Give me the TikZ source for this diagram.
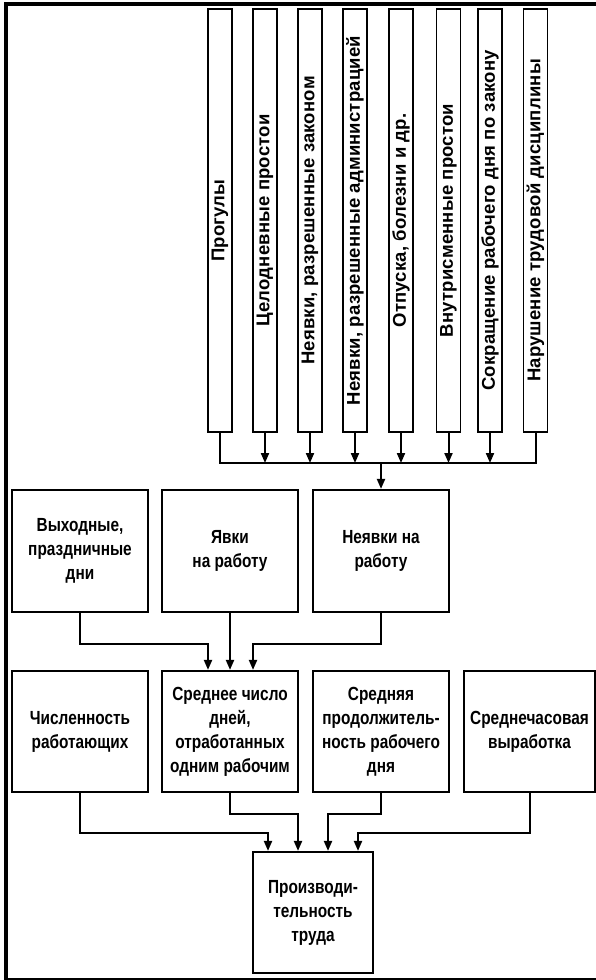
\documentclass[tikz,border=0pt]{standalone}
\usepackage{fontspec}
\newfontfamily\vfont[LetterSpace=1]{Liberation Sans Bold}
\newfontfamily\bfont[FakeStretch=0.81]{Liberation Sans Bold}
\usetikzlibrary{arrows.meta}
\begin{document}
\begin{tikzpicture}[x=1pt,y=-1pt,
  vbox/.style={draw, line width=1.8pt, rotate=90, minimum width=423pt, minimum height=24pt, inner sep=0pt, font=\vfont\fontsize{18.5}{20}\selectfont},
  mbox/.style={draw, line width=2.2pt, minimum width=136pt, minimum height=122pt, align=center, inner sep=0pt, font=\bfont\fontsize{19}{24}\selectfont},
  conn/.style={line width=2pt},
  arr/.style={conn, -{Triangle[width=8pt,length=10pt]}}]
\useasboundingbox (0,0) rectangle (596,980);
% frame
\draw[line width=4pt] (6,979) -- (6,3.5) -- (596,3.5);
\draw[line width=1.5pt] (4,979) -- (596,979);
% vertical boxes
\node[vbox] (p1) at (220,220.5) {Прогулы};
\node[vbox] (p2) at (265,220.5) {Целодневные простои};
\node[vbox] (p3) at (310,220.5) {Неявки, разрешенные законом};
\node[vbox] (p4) at (355,220.5) {Неявки, разрешенные администрацией};
\node[vbox] (p5) at (401,220.5) {Отпуска, болезни и др.};
\node[vbox] (p6) at (448.5,220.5) {Внутрисменные простои};
\node[vbox] (p7) at (490,220.5) {Сокращение рабочего дня по закону};
\node[vbox] (p8) at (535.5,220.5) {Нарушение трудовой дисциплины};
% middle row
\node[mbox] (vyh) at (80,551) {Выходные,\\праздничные\\дни};
\node[mbox] (yav) at (230,551) {Явки\\на работу};
\node[mbox] (nev) at (381,551) {Неявки на\\работу};
% third row
\node[mbox, minimum height=121pt] (chis) at (80,731.5) {Численность\\работающих};
\node[mbox, minimum height=121pt] (sred) at (230,731.5) {Среднее число\\дней,\\отработанных\\одним рабочим};
\node[mbox, minimum height=121pt] (sprod) at (381,731.5) {Средняя\\продолжитель-\\ность рабочего\\дня};
\node[mbox, minimum height=121pt, minimum width=131pt] (schas) at (529.5,731.5) {Среднечасовая\\выработка};
% bottom
\node[mbox, minimum height=121pt, minimum width=120pt] (prod) at (313,912.5) {Производи-\\тельность\\труда};
% bus
\coordinate (bus) at (0,463);
\draw[conn] (p1.west) -- (p1.west |- bus) -- (p8.west |- bus) -- (p8.west);
\foreach \i in {2,...,7} \draw[arr] (p\i.west) -- (p\i.west |- bus);
\draw[arr] (nev.north |- bus) -- (nev.north);
% row 2 -> 3
\draw[arr] (vyh.south) -- ++(0,31) -| ([xshift=-22pt]sred.north);
\draw[arr] (yav.south) -- (sred.north);
\draw[arr] (nev.south) -- ++(0,31) -| ([xshift=23pt]sred.north);
% row 3 -> bottom
\draw[arr] (chis.south) -- ++(0,40) -| ([xshift=-45pt]prod.north);
\draw[arr] (sred.south) -- ++(0,21) -| ([xshift=-15pt]prod.north);
\draw[arr] (sprod.south) -- ++(0,21) -| ([xshift=15pt]prod.north);
\draw[arr] (schas.south) -- ++(0,40) -| ([xshift=45pt]prod.north);
\end{tikzpicture}
\end{document}
